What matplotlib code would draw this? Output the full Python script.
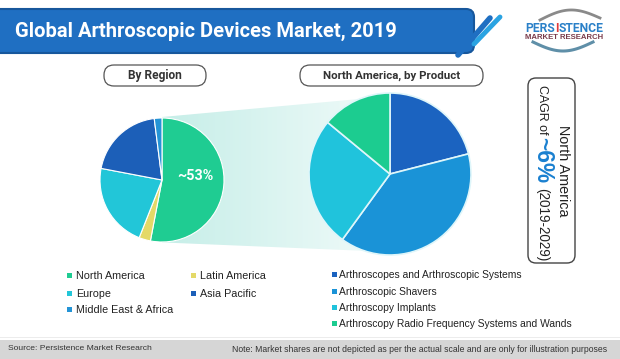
import numpy as np
import matplotlib
matplotlib.use("Agg")
import matplotlib.pyplot as plt
from matplotlib.patches import FancyBboxPatch, Rectangle, Polygon

# ---------------- data ----------------
title = "Global Arthroscopic Devices Market, 2019"
region_names = ["North America", "Latin America", "Europe", "Asia Pacific", "Middle East & Africa"]
region_share = [53, 3, 22, 20, 2]
region_colors = ["#1fcc92", "#e4d968", "#22c6d8", "#1c5fb8", "#2494d6"]

product_names = ["Arthroscopes and Arthroscopic Systems", "Arthroscopic Shavers",
                 "Arthroscopy Implants", "Arthroscopy Radio Frequency Systems and Wands"]
product_share = [21, 39, 26, 14]
product_colors = ["#1b63c0", "#1a93d7", "#20c3dc", "#1ccc90"]

na_label = "~53%"
cagr_value = "~6%"
cagr_period = "(2019-2029)"

W, H = 620, 359
fig = plt.figure(figsize=(W / 100, H / 100), dpi=100)
ax = fig.add_axes([0, 0, 1, 1])
ax.set_xlim(0, W)
ax.set_ylim(H, 0)
ax.axis("off")
renderer = fig.canvas.get_renderer()

SANS = ["Liberation Sans", "DejaVu Sans"]
ROBOTO = ["Roboto", "DejaVu Sans"]


def fit(t, length, use_height=False):
    bb = t.get_window_extent(renderer)
    cur = bb.height if use_height else bb.width
    t.set_fontsize(t.get_fontsize() * length / cur)
    return t


def width_of(s, fs, **kw):
    p = ax.text(0, 0, s, fontsize=fs, **kw)
    w = p.get_window_extent(renderer).width
    p.remove()
    return w


# ---------------- banner ----------------
ax.add_patch(FancyBboxPatch((-12, 9), 486, 44, boxstyle="round,pad=0,rounding_size=8",
                            facecolor="#1f6fc2", edgecolor="#17579c", lw=1.5, zorder=2))
t = ax.text(15, 31, title, color="white", fontweight="bold", family=ROBOTO,
            fontsize=14, va="center", ha="left", zorder=3)
fit(t, 382)
# decorative stripes
ax.plot([458, 490], [55, 18], color="#1f6fc2", lw=4, solid_capstyle="round", zorder=2)
ax.plot([474, 500], [44, 17], color="#2aa3e2", lw=3.5, solid_capstyle="round", zorder=2)

# logo
tt = np.linspace(0, 1, 50)
ax.plot(540 + 60 * tt, 20 - 9 * np.sin(np.pi * tt) - 2 * tt, color="#8a8a8a", lw=2, zorder=2)
ax.plot(533 + 60 * tt, 42 + 9 * np.sin(np.pi * tt), color="#5f8fa8", lw=2.2, zorder=2)
kw = dict(fontweight="bold", family=ROBOTO)
fs_logo = 10 * 78 / width_of("PERSISTENCE", 10, **kw)
w_i = width_of("I", fs_logo, **kw)
w_is = width_of("IS", fs_logo, **kw)
w_s = width_of("S", fs_logo, **kw)
gap = w_is - w_i - w_s
x_i = 525 + width_of("PERS", fs_logo, **kw) + gap
ax.text(x_i - gap, 28, "PERS", color="#2a80c8", fontsize=fs_logo, va="center", ha="right", zorder=3, **kw)
ax.text(x_i, 28, "I", color="#e03a3a", fontsize=fs_logo, va="center", ha="left", zorder=3, **kw)
ax.text(x_i + w_i + gap, 28, "STENCE", color="#2a80c8", fontsize=fs_logo, va="center",
        ha="left", zorder=3, **kw)
tm = ax.text(525, 37.5, "MARKET RESEARCH", color="#7a3b4a", family=SANS, fontsize=4,
             va="center", ha="left", fontweight="bold", zorder=3)
fit(tm, 78)

# ---------------- pill labels ----------------
ax.add_patch(FancyBboxPatch((104, 65), 102, 21, boxstyle="round,pad=0,rounding_size=10",
                            facecolor="white", edgecolor="#555555", lw=0.9, zorder=2))
t = ax.text(155, 75.5, "By Region", fontweight="bold", family=ROBOTO, fontsize=8,
            color="#333333", va="center", ha="center", zorder=3)
fit(t, 54)
ax.add_patch(FancyBboxPatch((300, 65), 183, 21, boxstyle="round,pad=0,rounding_size=10",
                            facecolor="white", edgecolor="#555555", lw=0.9, zorder=2))
t = ax.text(391.5, 75.5, "North America, by Product", fontweight="bold", family=ROBOTO,
            fontsize=8, color="#333333", va="center", ha="center", zorder=3)
fit(t, 137)

# ---------------- connector gradient ----------------
grad = np.linspace(0, 1, 256).reshape(1, -1)
cmap = matplotlib.colors.LinearSegmentedColormap.from_list("g", ["#c6eee8", "#f2fbfa"])
poly = Polygon([(162, 117), (392, 96), (392, 252), (152, 242)], closed=True,
               facecolor="none", edgecolor="none")
ax.add_patch(poly)
im = ax.imshow(grad, cmap=cmap, extent=[162, 392, 260, 90], aspect="auto", zorder=1)
im.set_clip_path(poly)

# ---------------- pies ----------------
ax.pie(region_share, colors=region_colors, startangle=-90, counterclock=True,
       center=(162, 180), radius=62, frame=True,
       wedgeprops=dict(edgecolor="white", linewidth=0.8, zorder=4))
ax.pie(product_share, colors=product_colors, startangle=-90, counterclock=True,
       center=(390, 174), radius=81, frame=True,
       wedgeprops=dict(edgecolor="#dff6fa", linewidth=1.2, zorder=4))
t = ax.text(195, 176, na_label, color="white", fontweight="bold", family=ROBOTO,
            fontsize=12, va="center", ha="center", zorder=6)
fit(t, 36)

# ---------------- CAGR box ----------------
ax.add_patch(FancyBboxPatch((528, 78), 47, 185, boxstyle="round,pad=0,rounding_size=8",
                            facecolor="white", edgecolor="#444444", lw=1.0, zorder=2))
t = ax.text(563, 171, "North America", rotation=270, family=SANS, fontsize=10,
            color="#222222", va="center", ha="center", zorder=3)
fit(t, 92, use_height=True)
t = ax.text(542, 110, "CAGR of", rotation=270, family=SANS, fontsize=10,
            color="#222222", va="center", ha="center", zorder=3)
fit(t, 50, use_height=True)
t = ax.text(543, 160, cagr_value, rotation=270, family=SANS, fontsize=13, fontweight="bold",
            color="#1a80d0", va="center", ha="center", zorder=3)
fit(t, 46, use_height=True)
t = ax.text(542, 225, cagr_period, rotation=270, family=SANS, fontsize=9,
            color="#222222", va="center", ha="center", zorder=3)
fit(t, 74, use_height=True)

# ---------------- legends ----------------
leg_fs = 9 * 234 / width_of(product_names[3], 9, family=SANS)

left_pos = [(69, 275), (193, 275), (69, 293), (193, 293), (69, 309)]
for (x, y), name, c in zip(left_pos, region_names, region_colors):
    ax.add_patch(Rectangle((x - 2.5, y - 2.5), 5, 5, facecolor=c, edgecolor="none", zorder=3))
    ax.text(x + 7, y, name, family=SANS, fontsize=leg_fs * 1.05, color="#222222",
            va="center_baseline", ha="left", zorder=3)

right_y = [274, 291, 307, 323]
for y, name, c in zip(right_y, product_names, product_colors):
    ax.add_patch(Rectangle((331.5, y - 2.5), 5, 5, facecolor=c, edgecolor="none", zorder=3))
    ax.text(339, y, name, family=SANS, fontsize=leg_fs, color="#222222",
            va="center_baseline", ha="left", zorder=3)

# ---------------- footer ----------------
ax.add_patch(Rectangle((0, 336.5), W, 1.5, facecolor="#ececec", edgecolor="none", zorder=2))
ax.add_patch(Rectangle((0, 340), W, 19, facecolor="#d6d6d6", edgecolor="none", zorder=2))
t = ax.text(8, 349, "Source: Persistence Market Research", family=SANS, fontsize=6,
            color="#333333", va="center", ha="left", zorder=3)
fit(t, 144)
t = ax.text(232, 349, "Note: Market shares are not depicted as per the actual scale and are only for illustration purposes",
            family=SANS, fontsize=6, color="#333333", va="center", ha="left", zorder=3)
fit(t, 376)

ax.set_xlim(0, W)
ax.set_ylim(H, 0)
ax.set_aspect("auto")
ax.axis("off")
fig.savefig("out.png", dpi=100)
